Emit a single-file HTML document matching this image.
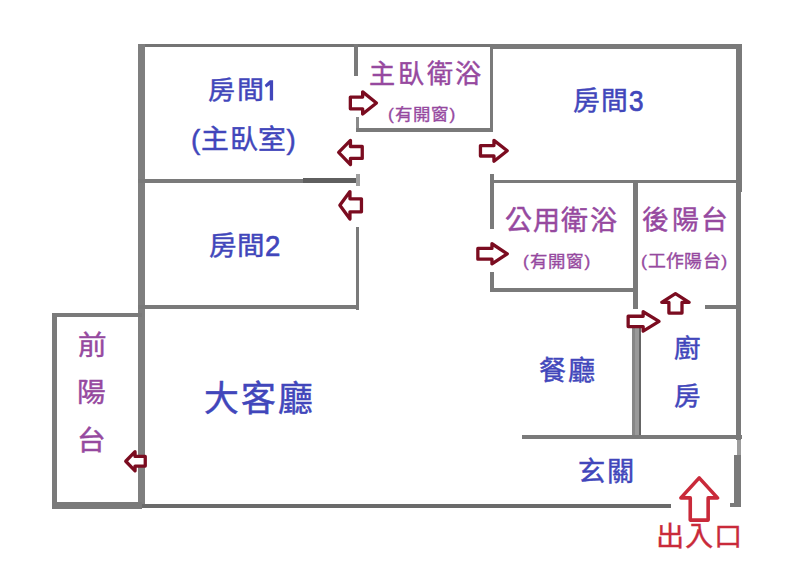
<!DOCTYPE html>
<html lang="zh-TW"><head><meta charset="utf-8"><title>floor plan</title>
<style>
html,body{margin:0;padding:0;background:#fff;}
body{width:800px;height:566px;position:relative;overflow:hidden;font-family:"Liberation Sans",sans-serif;}
.w{position:absolute;background:#7a7a7a;}
#walls{position:absolute;left:0;top:0;width:800px;height:566px;}
.t{position:absolute;line-height:1;white-space:nowrap;transform-origin:0 0;}
svg{position:absolute;left:0;top:0;}
.d1{font-size:29px;font-weight:bold;-webkit-text-stroke:0;letter-spacing:0}.d{font-size:29px;letter-spacing:0}
</style></head><body>

<div id="walls">
<div class="w" style="left:138px;top:44.2px;width:352px;height:3.2px;background:#747474"></div>
<div class="w" style="left:490px;top:43.5px;width:252px;height:5.0px"></div>
<div class="w" style="left:138px;top:44px;width:7px;height:463px;background:#7f7f7f"></div>
<div class="w" style="left:736px;top:44px;width:6px;height:148px"></div>
<div class="w" style="left:735.5px;top:192px;width:5.7px;height:248px"></div>
<div class="w" style="left:737px;top:440px;width:4px;height:15px;background:#9c9c9c"></div>
<div class="w" style="left:734px;top:455px;width:7px;height:51.5px"></div>
<div class="w" style="left:138px;top:504.3px;width:533px;height:3.3px;background:#6a6a6a"></div>
<div class="w" style="left:51.5px;top:313px;width:5.5px;height:195.5px"></div>
<div class="w" style="left:51.5px;top:313px;width:90.5px;height:4px"></div>
<div class="w" style="left:51.5px;top:502px;width:90.5px;height:6.5px"></div>
<div class="w" style="left:354px;top:44px;width:4px;height:32px"></div>
<div class="w" style="left:356px;top:117px;width:3px;height:15px;background:#8a8a8a"></div>
<div class="w" style="left:356px;top:128px;width:137px;height:3.6px"></div>
<div class="w" style="left:490px;top:44px;width:3px;height:88px"></div>
<div class="w" style="left:138px;top:179.2px;width:220px;height:3.4px"></div>
<div class="w" style="left:303px;top:178.2px;width:55px;height:4.4px;background:#5f5f5f"></div>
<div class="w" style="left:356px;top:173.5px;width:3.5px;height:12.5px;background:#a0a0a0"></div>
<div class="w" style="left:355.5px;top:227px;width:3.8px;height:82.5px"></div>
<div class="w" style="left:138px;top:305px;width:221.3px;height:4.2px"></div>
<div class="w" style="left:490px;top:179.5px;width:252px;height:3.9px"></div>
<div class="w" style="left:490px;top:174px;width:3.5px;height:55px"></div>
<div class="w" style="left:490px;top:272px;width:3.5px;height:19px"></div>
<div class="w" style="left:490px;top:288px;width:147px;height:3.5px"></div>
<div class="w" style="left:632.5px;top:180px;width:5.0px;height:128.5px"></div>
<div class="w" style="left:631.5px;top:326px;width:3.9px;height:112px;background:#878787"></div>
<div class="w" style="left:635.4px;top:326px;width:3.2px;height:112px;background:#9a9a9a"></div>
<div class="w" style="left:638.6px;top:326px;width:2.9px;height:112px;background:#656565"></div>
<div class="w" style="left:705px;top:305px;width:34px;height:4px"></div>
<div class="w" style="left:522px;top:434.8px;width:220px;height:3.8px"></div>
<div class="w" style="left:729.5px;top:503px;width:11.5px;height:3.5px"></div>
</div>
<svg width="800" height="566" viewBox="0 0 800 566"><path d="M350.35,97.10 L362.65,97.10 L362.65,91.85 L376.45,102.95 L362.65,114.05 L362.65,108.80 L350.35,108.80 Z" fill="#fff" stroke="#7b0c20" stroke-width="3.3" stroke-linejoin="round"/><path d="M362.25,146.50 L350.45,146.50 L350.45,140.35 L338.65,152.45 L350.45,164.55 L350.45,158.40 L362.25,158.40 Z" fill="#fff" stroke="#7b0c20" stroke-width="3.3" stroke-linejoin="round"/><path d="M480.45,145.60 L493.95,145.60 L493.95,140.35 L507.25,150.80 L493.95,161.25 L493.95,156.00 L480.45,156.00 Z" fill="#fff" stroke="#7b0c20" stroke-width="3.3" stroke-linejoin="round"/><path d="M361.45,198.80 L349.95,198.80 L349.95,191.55 L339.85,205.30 L349.95,219.05 L349.95,211.80 L361.45,211.80 Z" fill="#fff" stroke="#7b0c20" stroke-width="3.3" stroke-linejoin="round"/><path d="M477.85,248.40 L491.95,248.40 L491.95,243.75 L507.25,253.80 L491.95,263.85 L491.95,259.20 L477.85,259.20 Z" fill="#fff" stroke="#7b0c20" stroke-width="3.3" stroke-linejoin="round"/><path d="M668.90,313.05 L668.90,302.35 L661.75,302.35 L675.45,293.65 L689.15,302.35 L682.00,302.35 L682.00,313.05 Z" fill="#fff" stroke="#7b0c20" stroke-width="3.3" stroke-linejoin="round"/><path d="M628.15,316.25 L643.15,316.25 L643.15,311.75 L659.05,321.40 L643.15,331.05 L643.15,326.55 L628.15,326.55 Z" fill="#fff" stroke="#7b0c20" stroke-width="3.3" stroke-linejoin="round"/><path d="M145.25,456.45 L135.05,456.45 L135.05,451.65 L125.75,461.25 L135.05,470.85 L135.05,466.05 L145.25,466.05 Z" fill="#fff" stroke="#7b0c20" stroke-width="3.3" stroke-linejoin="round"/><path d="M690.25,520.10 L690.25,497.90 L680.90,497.90 L699.20,477.90 L717.50,497.90 L708.15,497.90 L708.15,520.10 Z" fill="#fff" stroke="#c92a3a" stroke-width="3.6" stroke-linejoin="round"/><path d="M269.8,80.2 L273.1,80.2 L273.1,100.6 L269.8,100.6 L269.8,84.9 L266.1,87.6 L264.7,85.1 Z" fill="#4146bb"/></svg>
<div class="t" style="left:207.8px;top:78.0px;font-size:25.5px;letter-spacing:1.65px;color:#4146bb;transform:scaleX(1.06);-webkit-text-stroke:0.45px #4146bb;">房間</div>
<div class="t" style="left:191.23px;top:127.12px;font-size:27.0px;letter-spacing:0.7px;color:#4146bb;transform:scaleX(1.03);-webkit-text-stroke:0.45px #4146bb;">(主臥室)</div>
<div class="t" style="left:369.48px;top:60.62px;font-size:26.1px;letter-spacing:2.55px;color:#96499f;-webkit-text-stroke:0.45px #96499f;">主臥衛浴</div>
<div class="t" style="left:388.0px;top:106.25px;font-size:16.1px;letter-spacing:0.9px;color:#96499f;transform:scaleX(1.08);-webkit-text-stroke:0.35px #96499f;">(有開窗)</div>
<div class="t" style="left:573.05px;top:88.05px;font-size:26.0px;letter-spacing:1.45px;color:#4146bb;transform:scaleX(1.03);-webkit-text-stroke:0.45px #4146bb;">房間</div>
<div class="t" style="left:628.92px;top:87.38px;font-size:29px;letter-spacing:0.0px;color:#4146bb;transform:scaleX(0.9);-webkit-text-stroke:0.7px #4146bb;">3</div>
<div class="t" style="left:208.95px;top:233.05px;font-size:26.0px;letter-spacing:0.3px;color:#4146bb;transform:scaleX(1.057);-webkit-text-stroke:0.45px #4146bb;">房間</div>
<div class="t" style="left:265.15px;top:231.85px;font-size:29px;letter-spacing:0.0px;color:#4146bb;transform:scaleX(0.95);-webkit-text-stroke:0.7px #4146bb;">2</div>
<div class="t" style="left:504.62px;top:207.62px;font-size:27.0px;letter-spacing:1.4px;color:#96499f;-webkit-text-stroke:0.45px #96499f;">公用衛浴</div>
<div class="t" style="left:523.3px;top:252.65px;font-size:16.1px;letter-spacing:0.9px;color:#96499f;transform:scaleX(1.08);-webkit-text-stroke:0.35px #96499f;">(有開窗)</div>
<div class="t" style="left:642.4px;top:206.8px;font-size:26.5px;letter-spacing:3.25px;color:#96499f;transform:scaleX(1.01);-webkit-text-stroke:0.45px #96499f;">後陽台</div>
<div class="t" style="left:641.35px;top:252.85px;font-size:17.0px;letter-spacing:0.55px;color:#96499f;transform:scaleX(1.05);-webkit-text-stroke:0.35px #96499f;">(工作陽台)</div>
<div class="t" style="left:204.0px;top:381.62px;font-size:34.8px;letter-spacing:1.75px;color:#4146bb;-webkit-text-stroke:0.5px #4146bb;">大客廳</div>
<div class="t" style="left:538.77px;top:357.95px;font-size:26.8px;letter-spacing:1.85px;color:#4146bb;transform:scaleX(1.01);-webkit-text-stroke:0.45px #4146bb;">餐廳</div>
<div class="t" style="left:674.2px;top:336.1px;font-size:25.5px;letter-spacing:0.0px;color:#4146bb;transform:scaleX(1.04);-webkit-text-stroke:0.45px #4146bb;">廚</div>
<div class="t" style="left:674.05px;top:383.6px;font-size:25.5px;letter-spacing:0.0px;color:#4146bb;transform:scaleX(1.04);-webkit-text-stroke:0.45px #4146bb;">房</div>
<div class="t" style="left:577.85px;top:457.67px;font-size:27.2px;letter-spacing:2.3px;color:#4146bb;-webkit-text-stroke:0.45px #4146bb;">玄關</div>
<div class="t" style="left:77.6px;top:333.25px;font-size:27.0px;letter-spacing:0.0px;color:#96499f;transform:scaleX(1.06);-webkit-text-stroke:0.45px #96499f;">前</div>
<div class="t" style="left:76.9px;top:380.45px;font-size:27.0px;letter-spacing:0.0px;color:#96499f;transform:scaleX(1.06);-webkit-text-stroke:0.45px #96499f;">陽</div>
<div class="t" style="left:77.45px;top:428.45px;font-size:27.0px;letter-spacing:0.0px;color:#96499f;transform:scaleX(1.06);-webkit-text-stroke:0.45px #96499f;">台</div>
<div class="t" style="left:655.9px;top:523.27px;font-size:27.2px;letter-spacing:0.85px;color:#c92a3a;transform:scaleX(1.04);-webkit-text-stroke:0.3px #c92a3a;">出入口</div>
</body></html>
